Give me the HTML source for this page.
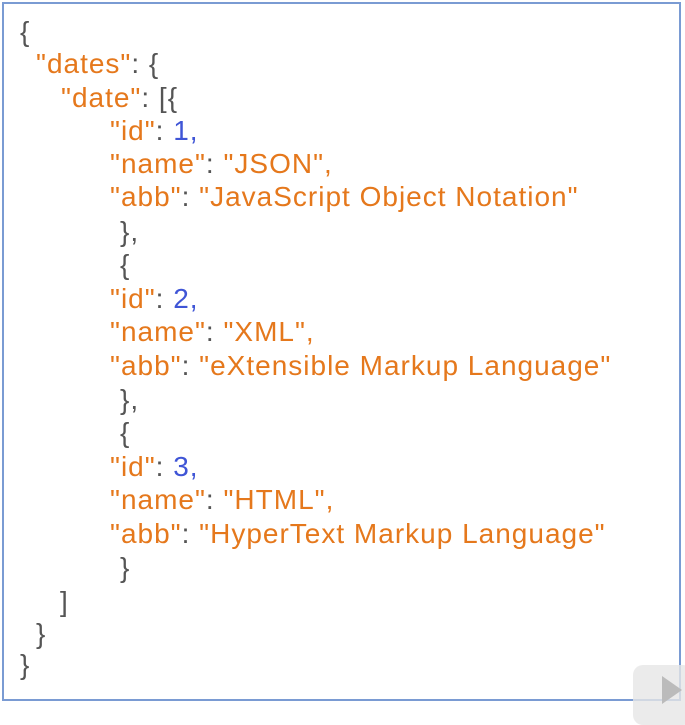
<!DOCTYPE html>
<html><head><style>
body{margin:0;width:685px;height:709px;background:#fff;position:relative;overflow:hidden;font-family:"Liberation Sans",sans-serif;}
.box{position:absolute;left:2px;top:2px;width:675px;height:695px;border:2px solid #7a9bd3;}
.l{position:absolute;font-size:28px;letter-spacing:1px;line-height:34px;height:34px;white-space:pre;color:#555;}
.o{color:#e5781c}.b{color:#3f55d6}
</style></head><body>
<div class="box"></div>
<div class="l" style="left:20px;top:15px">{</div>
<div class="l" style="left:36px;top:47px"><span class="o">"dates"</span>: {</div>
<div class="l" style="left:61px;top:81px"><span class="o">"date"</span>: [{</div>
<div class="l" style="left:110px;top:114px"><span class="o">"id"</span>: <span class="b">1,</span></div>
<div class="l" style="left:110px;top:147px"><span class="o">"name"</span>: <span class="o">"JSON",</span></div>
<div class="l" style="left:110px;top:180px"><span class="o">"abb"</span>: <span class="o">"JavaScript Object Notation"</span></div>
<div class="l" style="left:120px;top:215px">},</div>
<div class="l" style="left:120px;top:248px">{</div>
<div class="l" style="left:110px;top:282px"><span class="o">"id"</span>: <span class="b">2,</span></div>
<div class="l" style="left:110px;top:315px"><span class="o">"name"</span>: <span class="o">"XML",</span></div>
<div class="l" style="left:110px;top:349px"><span class="o">"abb"</span>: <span class="o">"eXtensible Markup Language"</span></div>
<div class="l" style="left:120px;top:383px">},</div>
<div class="l" style="left:120px;top:416px">{</div>
<div class="l" style="left:110px;top:450px"><span class="o">"id"</span>: <span class="b">3,</span></div>
<div class="l" style="left:110px;top:483px"><span class="o">"name"</span>: <span class="o">"HTML",</span></div>
<div class="l" style="left:110px;top:517px"><span class="o">"abb"</span>: <span class="o">"HyperText Markup Language"</span></div>
<div class="l" style="left:120px;top:551px">}</div>
<div class="l" style="left:60px;top:585px">]</div>
<div class="l" style="left:36px;top:617px">}</div>
<div class="l" style="left:20px;top:648px">}</div>
<div style="position:absolute;left:633px;top:665px;width:60px;height:60px;border-radius:10px;background:rgba(230,230,230,0.8)"></div>
<div style="position:absolute;left:662px;top:676px;width:0;height:0;border-top:14px solid transparent;border-bottom:14px solid transparent;border-left:20px solid #bbb"></div>
</body></html>
